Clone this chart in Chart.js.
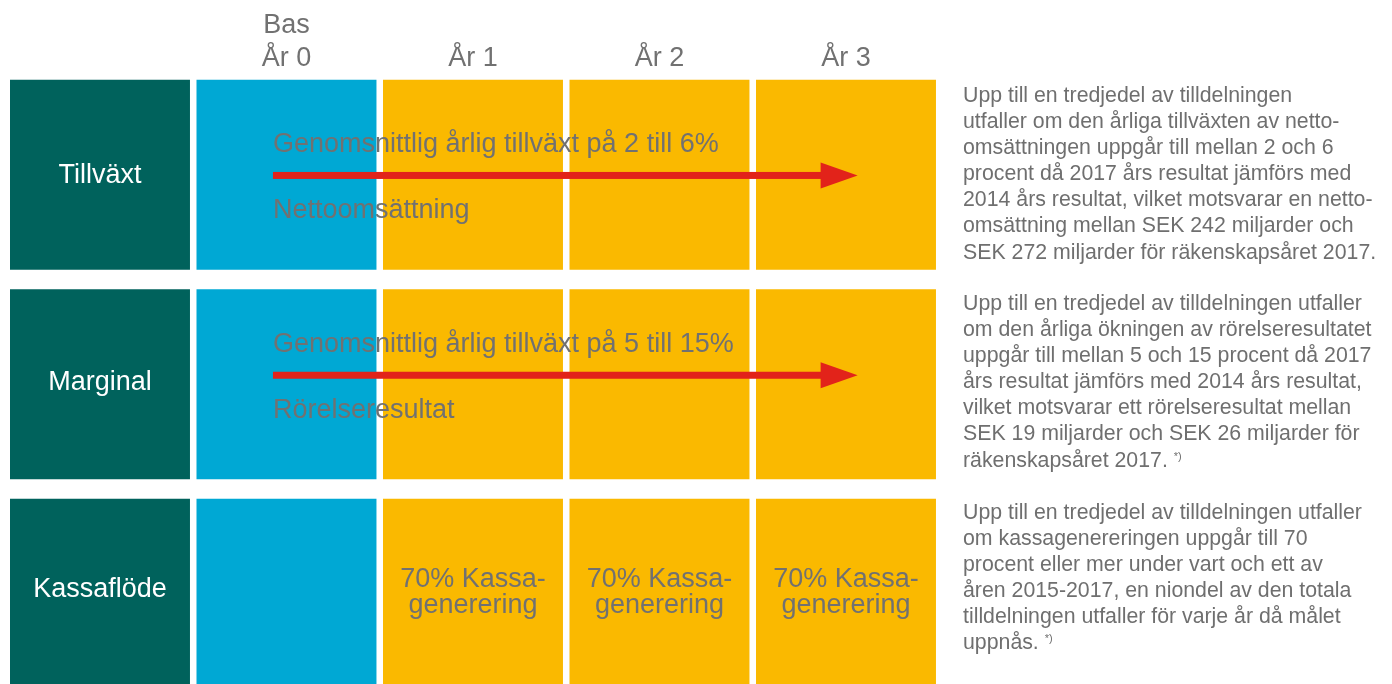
<!DOCTYPE html>
<html>
<head>
<meta charset="utf-8">
<script src="https://cdn.jsdelivr.net/npm/chart.js@4"></script>
<style>
  html, body { margin: 0; padding: 0; background: #fff; overflow: hidden; }
  #wrap { position: relative; width: 1392px; height: 684px; overflow: hidden; }
  canvas { position: absolute; left: 0; top: 0; }
  .note {
    position: absolute; left: 963px; width: 430px;
    font-family: "Liberation Sans", Arial, sans-serif;
    font-size: 21.3px; line-height: 26.1px; color: #6f6f6f; white-space: nowrap;
  }
  .note sup { font-size: 11px; vertical-align: 7px; line-height: 0; }
</style>
</head>
<body>
<div id="wrap">
  <canvas id="c" width="1392" height="700"></canvas>
  <div class="note" style="top:82px">Upp till en tredjedel av tilldelningen<br>utfaller om den årliga tillväxten av netto-<br>omsättningen uppgår till mellan 2 och 6<br>procent då 2017 års resultat jämförs med<br>2014 års resultat, vilket motsvarar en netto-<br>omsättning mellan SEK 242 miljarder och<br>SEK 272 miljarder för räkenskapsåret 2017.</div>
  <div class="note" style="top:290px">Upp till en tredjedel av tilldelningen utfaller<br>om den årliga ökningen av rörelseresultatet<br>uppgår till mellan 5 och 15 procent då 2017<br>års resultat jämförs med 2014 års resultat,<br>vilket motsvarar ett rörelseresultat mellan<br>SEK 19 miljarder och SEK 26 miljarder för<br>räkenskapsåret 2017. <sup>*)</sup></div>
  <div class="note" style="top:499px">Upp till en tredjedel av tilldelningen utfaller<br>om kassagenereringen uppgår till 70<br>procent eller mer under vart och ett av<br>åren 2015-2017, en niondel av den totala<br>tilldelningen utfaller för varje år då målet<br>uppnås. <sup>*)</sup></div>
</div>
<script>
// rows of the grid
const rowLabels = ['Tillväxt', 'Marginal', 'Kassaflöde'];

// columns: label column, base year, years 1-3
const columnStarts = [0, 1, 2, 3, 4];
const columnWidth = 0.965;
const columnHeaders = [[], ['Bas', 'År 0'], ['År 1'], ['År 2'], ['År 3']];
const columnColors = ['#00625c', '#00a8d4', '#fab900', '#fab900', '#fab900'];

// growth arrows per row (in column units), null = none
const arrowFrom = [1.41, 1.41, null];
const arrowTo = [4.545, 4.545, null];
const arrowAbove = ['Genomsnittlig årlig tillväxt på 2 till 6%', 'Genomsnittlig årlig tillväxt på 5 till 15%', null];
const arrowBelow = ['Nettoomsättning', 'Rörelseresultat', null];

// text inside the year cells of the last row
const cashCells = [null, null, ['70% Kassa-', 'generering'], ['70% Kassa-', 'generering'], ['70% Kassa-', 'generering']];

const FONT = '"Liberation Sans", Arial, sans-serif';
const arrowShift = [0.7, -9, 0];
const labelShift = [8, 5.5, 3];

const gridText = {
  id: 'gridText',
  afterDatasetsDraw(chart) {
    const ctx = chart.ctx;
    const x = chart.scales.x, y = chart.scales.y;
    const top = chart.chartArea.top;
    const colMid = i => x.getPixelForValue(columnStarts[i] + columnWidth / 2);
    ctx.save();
    ctx.textAlign = 'center';
    ctx.textBaseline = 'alphabetic';
    ctx.font = '27px ' + FONT;
    ctx.fillStyle = '#717171';

    // header
    columnHeaders.forEach((lines, i) => {
      lines.forEach((t, k) => {
        ctx.fillText(t, colMid(i), top - 4 - (lines.length - 1 - k) * 33);
      });
    });

    // row labels
    ctx.fillStyle = '#ffffff';
    rowLabels.forEach((t, r) => {
      ctx.fillText(t, colMid(0), y.getPixelForValue(r) + labelShift[r]);
    });

    // cash generation cells
    ctx.fillStyle = '#717171';
    cashCells.forEach((lines, i) => {
      if (!lines) return;
      const cy = y.getPixelForValue(2);
      ctx.fillText(lines[0], colMid(i), cy - 7);
      ctx.fillText(lines[1], colMid(i), cy + 19.5);
    });

    // arrows
    rowLabels.forEach((_, r) => {
      if (arrowFrom[r] == null) return;
      const x0 = x.getPixelForValue(arrowFrom[r]);
      const x1 = x.getPixelForValue(arrowTo[r]);
      const ay = y.getPixelForValue(r) + arrowShift[r];
      const head = 37;
      ctx.fillStyle = '#e2231a';
      ctx.fillRect(x0, ay - 3.5, x1 - head - x0 + 1, 7);
      ctx.beginPath();
      ctx.moveTo(x1 - head, ay - 13);
      ctx.lineTo(x1, ay);
      ctx.lineTo(x1 - head, ay + 13);
      ctx.closePath();
      ctx.fill();

      ctx.fillStyle = '#717171';
      ctx.textAlign = 'left';
      ctx.fillText(arrowAbove[r], x0, ay - 23);
      ctx.fillText(arrowBelow[r], x0, ay + 43);
      ctx.textAlign = 'center';
    });
    ctx.restore();
  }
};

new Chart(document.getElementById('c'), {
  type: 'bar',
  data: {
    labels: rowLabels,
    datasets: columnStarts.map((s, i) => ({
      label: 'col' + i,
      data: rowLabels.map(() => [s, s + columnWidth]),
      backgroundColor: columnColors[i],
      borderWidth: 0,
      grouped: false,
      barPercentage: 1,
      categoryPercentage: 0.907
    }))
  },
  options: {
    indexAxis: 'y',
    responsive: false,
    animation: false,
    layout: { padding: { left: 10, right: 449.5, top: 70, bottom: 1.5 } },
    scales: {
      x: { type: 'linear', min: 0, max: 5, display: false },
      y: { display: false }
    },
    plugins: { legend: { display: false }, tooltip: { enabled: false } }
  },
  plugins: [gridText]
});
</script>
</body>
</html>
